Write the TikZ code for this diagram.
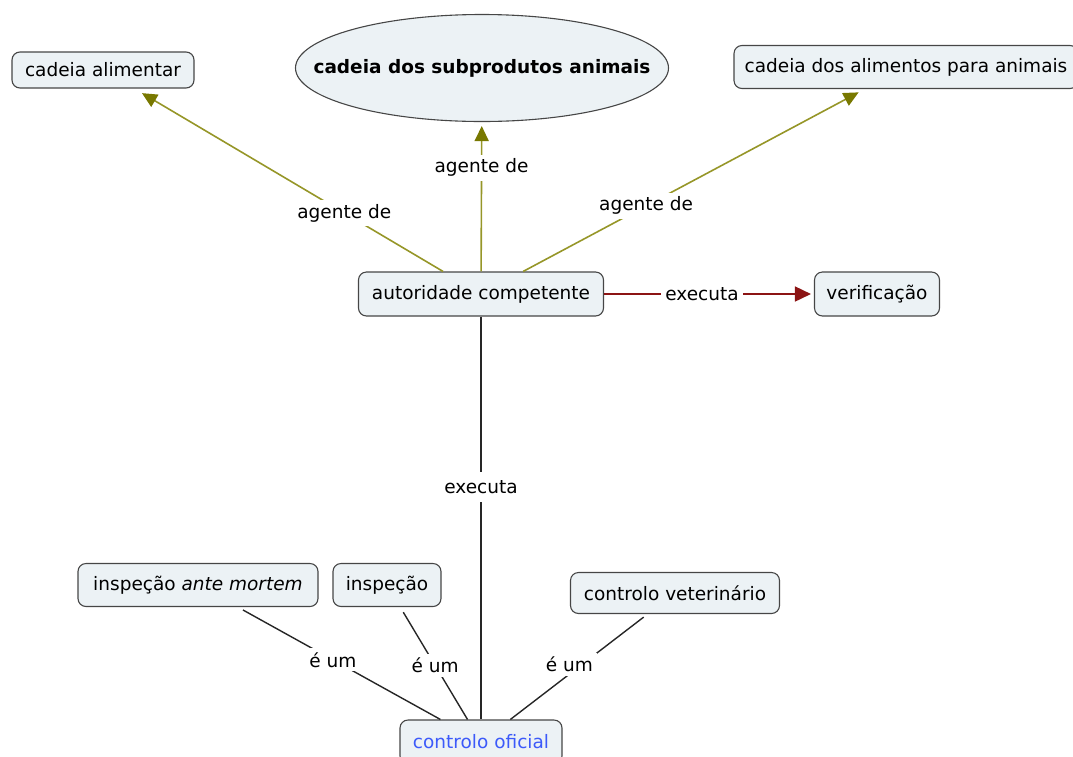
\documentclass[tikz,border=0pt]{standalone}
\usepackage{fontspec}
\setmainfont{DejaVu Sans}
\usetikzlibrary{arrows.meta,shapes.geometric}
\definecolor{boxfill}{RGB}{236,242,245}
\definecolor{boxline}{RGB}{70,70,70}
\definecolor{agentcol}{RGB}{150,150,40}
\definecolor{agenttip}{RGB}{120,120,0}
\definecolor{execcol}{RGB}{140,20,20}
\definecolor{linkblue}{RGB}{60,90,250}
\tikzset{
  concept/.style={draw=boxline, fill=boxfill, rounded corners=8pt, line width=1.1pt,
    minimum height=42pt, inner sep=0pt, font=\fontsize{18.5}{22}\selectfont},
  mainconcept/.style={ellipse, draw=boxline, fill=boxfill, line width=1.1pt,
    minimum width=373pt, minimum height=107pt, inner sep=0pt,
    font=\fontsize{18.5}{22}\selectfont\bfseries},
  linklabel/.style={fill=white, inner sep=4pt, font=\fontsize{18.5}{22}\selectfont},
  agentlink/.style={draw=agentcol, line width=1.6pt,
    -{Triangle[length=15pt,width=14pt,color=agenttip]}},
  execlink/.style={draw=execcol, line width=1.6pt,
    -{Triangle[length=16pt,width=15pt,color=execcol]}},
  plainlink/.style={draw=black!85, line width=1.4pt},
}
\begin{document}
\begin{tikzpicture}[x=1pt,y=-1pt]
\useasboundingbox (0,0) rectangle (1073,756);

% concepts
\node[mainconcept] (subprod) at (482,68) {\makebox[0pt]{cadeia dos subprodutos animais}};
\node[concept, minimum width=182pt, minimum height=36pt] (alim) at (103,70) {cadeia alimentar};
\node[concept, minimum width=344pt, minimum height=43pt] (racoes) at (906,67) {cadeia dos alimentos para animais};
\node[concept, minimum width=245pt, minimum height=44pt] (autor) at (481,294) {autoridade competente};
\node[concept, minimum width=125pt, minimum height=44pt] (verif) at (877,294) {verificação};
\node[concept, minimum width=240pt, minimum height=43pt] (antem) at (198,585) {inspeção \textit{ante mortem}};
\node[concept, minimum width=108pt, minimum height=43pt] (insp) at (387,585) {inspeção};
\node[concept, minimum width=209pt, minimum height=41pt] (vet) at (675,593) {controlo veterinário};
\node[concept, minimum width=162pt, minimum height=44pt, text=linkblue] (oficial) at (481,742) {controlo oficial};

% agente de
\draw[agentlink, shorten >=9pt] (autor) -- node[linklabel, pos=0.32] (lagl) {agente de} (alim);
\draw[agentlink, shorten >=4pt] (autor) -- node[linklabel, pos=0.695] (lagc) {agente de} (subprod);
\draw[agentlink, shorten >=7pt] (autor) -- node[linklabel, pos=0.36] (lagr) {agente de} (racoes);

% executa
\draw[execlink, shorten >=3pt] (autor) -- node[linklabel, pos=0.467] (lexr) {executa} (verif);
\draw[plainlink] (autor) -- node[linklabel, pos=0.423, inner ysep=8pt] (lexv) {executa} (oficial);

% é um
\draw[plainlink, shorten >=6pt] (oficial) -- node[linklabel, pos=0.53] (leu1) {é um} (antem);
\draw[plainlink, shorten >=6pt] (oficial) -- node[linklabel, pos=0.48] (leu2) {é um} (insp);
\draw[plainlink, shorten >=5pt] (oficial) -- node[linklabel, pos=0.43, yshift=10pt] (leu3) {é um} (vet);
\end{tikzpicture}
\end{document}
